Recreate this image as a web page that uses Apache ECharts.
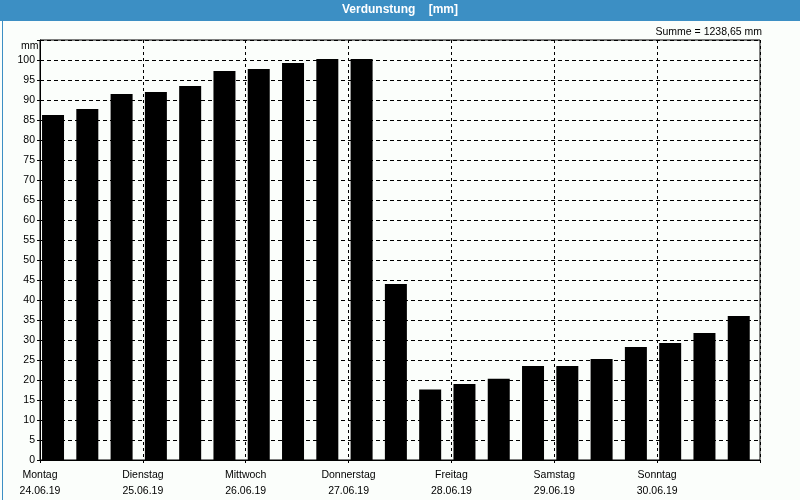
<!DOCTYPE html>
<html>
<head>
<meta charset="utf-8">
<script src="https://cdn.jsdelivr.net/npm/echarts@6/dist/echarts.min.js"></script>
<style>
html,body{margin:0;padding:0;background:#fbfefb;}
#c{width:800px;height:500px;}
</style>
</head>
<body>
<div id="c"></div>
<script>
// Data
const days = ['Montag','Dienstag','Mittwoch','Donnerstag','Freitag','Samstag','Sonntag'];
const dates = ['24.06.19','25.06.19','26.06.19','27.06.19','28.06.19','29.06.19','30.06.19'];
const values = [86.25, 87.75, 91.5, 92, 93.5, 97.25, 97.75, 99.25, 100.25, 100.25, 44, 17.6, 19, 20.3, 23.5, 23.5, 25.25, 28.25, 29.25, 31.75, 36];
const yTicks = [0,5,10,15,20,25,30,35,40,45,50,55,60,65,70,75,80,85,90,95,100];
const titleText = 'Verdunstung    [mm]';
const sumText = 'Summe = 1238,65 mm';
const unitText = 'mm';

const barsPerDay = 3;
const barOffset = 0.38;
const font = 'Liberation Sans';

const chart = echarts.init(document.getElementById('c'), null, {renderer:'canvas'});
chart.setOption({
  backgroundColor: '#fbfefb',
  animation: false,
  graphic: [
    {type:'rect', left:0, top:0, shape:{width:800, height:21}, style:{fill:'#3c8fc4'}, z:0},
    {type:'rect', left:0, top:0, shape:{x:0.5, y:0.5, width:799, height:499}, style:{fill:'none', stroke:'#3c8fc4', lineWidth:1}, z:0}
  ],
  title: [
    {text: titleText, left:'center', top:4, padding:0, textStyle:{color:'#fff', fontSize:12, fontWeight:'bold', fontFamily:font}},
    {text: sumText, right:38, top:27, padding:0, textStyle:{color:'#000', fontSize:10.5, fontWeight:'normal', fontFamily:font}},
    {text: unitText, left:21, top:41, padding:0, textStyle:{color:'#000', fontSize:10.5, fontWeight:'normal', fontFamily:font}}
  ],
  grid: {left:40, right:40, top:40, bottom:40, show:true, borderColor:'#000', borderWidth:1, backgroundColor:'transparent'},
  xAxis: {
    type:'value', min:0, max:days.length*barsPerDay, interval:barsPerDay,
    axisLine:{show:true, lineStyle:{color:'#000', width:1}},
    axisTick:{show:true, length:3, lineStyle:{color:'#000'}},
    splitLine:{show:true, lineStyle:{color:'#000', type:[3,3], width:1}},
    axisLabel:{
      color:'#000', fontSize:10.5, fontFamily:font, lineHeight:16, margin:7,
      showMaxLabel:true,
      formatter: function(v){ const d = Math.round(v/barsPerDay); return d < days.length ? days[d] + '\n' + dates[d] : ''; }
    }
  },
  yAxis: {
    type:'value', min:0, max:105, interval:5,
    axisLine:{show:true, lineStyle:{color:'#000', width:1}},
    axisTick:{show:true, length:3, lineStyle:{color:'#000'}},
    splitLine:{show:true, lineStyle:{color:'#000', type:[4,3], width:1}},
    axisLabel:{
      color:'#000', fontSize:10.5, fontFamily:font, margin:5,
      formatter: function(v){ return yTicks.indexOf(v) >= 0 ? String(v) : ''; }
    }
  },
  series: [{
    type:'bar',
    barWidth:22,
    itemStyle:{color:'#000'},
    data: values.map((v,i) => [i + barOffset, v]),
    z:3
  }]
});
</script>
</body>
</html>
